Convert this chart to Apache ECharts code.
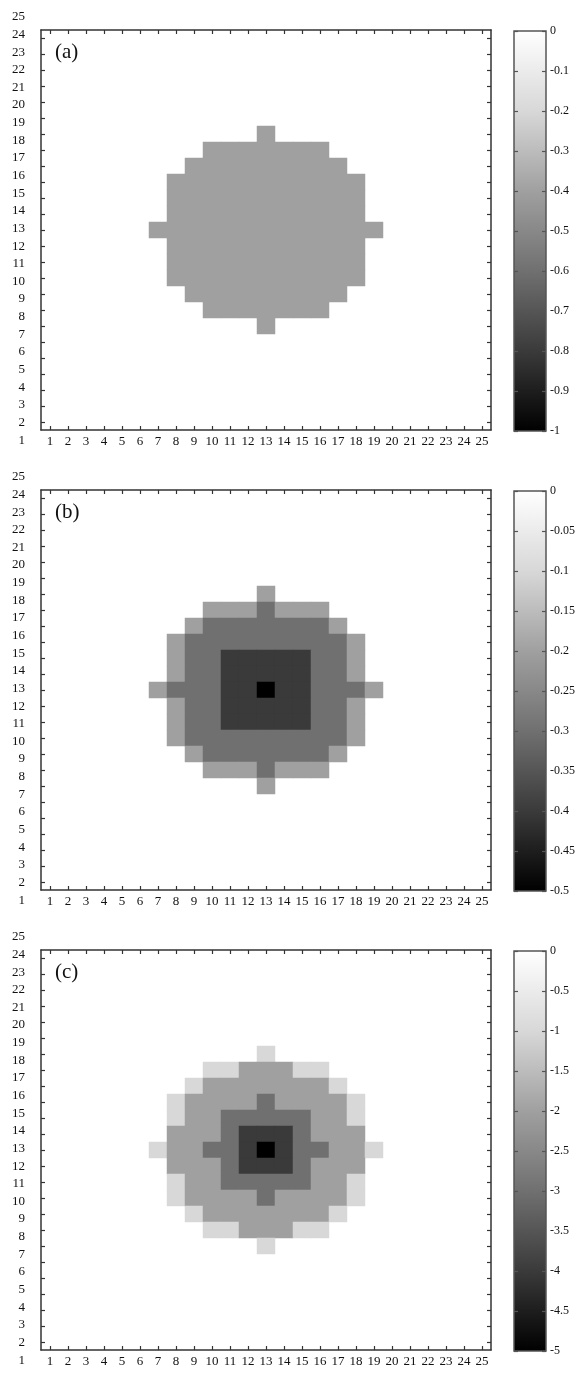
<!DOCTYPE html>
<html><head><meta charset="utf-8">
<script src="https://cdn.jsdelivr.net/npm/echarts@6/dist/echarts.min.js"></script>
<style>html,body{margin:0;padding:0;background:#fff}#c{width:581px;height:1377px}</style>
</head><body><div id="c"></div>
<script>
// Category tick labels
const xLabels = ['1','2','3','4','5','6','7','8','9','10','11','12','13','14','15','16','17','18','19','20','21','22','23','24','25'];
const yLabels = ['1','2','3','4','5','6','7','8','9','10','11','12','13','14','15','16','17','18','19','20','21','22','23','24','25'];

// Level codes per cell, rows listed from y=25 (top) down to y=1, columns x=1..25
const rowsA = [
'0000000000000000000000000',
'0000000000000000000000000',
'0000000000000000000000000',
'0000000000000000000000000',
'0000000000000000000000000',
'0000000000000000000000000',
'0000000000001000000000000',
'0000000001111111000000000',
'0000000011111111100000000',
'0000000111111111110000000',
'0000000111111111110000000',
'0000000111111111110000000',
'0000001111111111111000000',
'0000000111111111110000000',
'0000000111111111110000000',
'0000000111111111110000000',
'0000000011111111100000000',
'0000000001111111000000000',
'0000000000001000000000000',
'0000000000000000000000000',
'0000000000000000000000000',
'0000000000000000000000000',
'0000000000000000000000000',
'0000000000000000000000000',
'0000000000000000000000000'
];
const rowsB = [
'0000000000000000000000000',
'0000000000000000000000000',
'0000000000000000000000000',
'0000000000000000000000000',
'0000000000000000000000000',
'0000000000000000000000000',
'0000000000001000000000000',
'0000000001112111000000000',
'0000000012222222100000000',
'0000000122222222210000000',
'0000000122333332210000000',
'0000000122333332210000000',
'0000001222334332221000000',
'0000000122333332210000000',
'0000000122333332210000000',
'0000000122222222210000000',
'0000000012222222100000000',
'0000000001112111000000000',
'0000000000001000000000000',
'0000000000000000000000000',
'0000000000000000000000000',
'0000000000000000000000000',
'0000000000000000000000000',
'0000000000000000000000000',
'0000000000000000000000000'
];
const rowsC = [
'0000000000000000000000000',
'0000000000000000000000000',
'0000000000000000000000000',
'0000000000000000000000000',
'0000000000000000000000000',
'0000000000000000000000000',
'0000000000001000000000000',
'0000000001122211000000000',
'0000000012222222100000000',
'0000000122223222210000000',
'0000000122333332210000000',
'0000000222344432220000000',
'0000001223345433221000000',
'0000000222344432220000000',
'0000000122333332210000000',
'0000000122223222210000000',
'0000000012222222100000000',
'0000000001122211000000000',
'0000000000001000000000000',
'0000000000000000000000000',
'0000000000000000000000000',
'0000000000000000000000000',
'0000000000000000000000000',
'0000000000000000000000000',
'0000000000000000000000000'
];
// Value of each level code
const levelsA = [0, -0.4];
const levelsB = [0, -0.2, -0.3, -0.4, -0.5];
const levelsC = [0, -1, -2, -3, -4, -5];
// Colour bar ranges and tick steps
const barMinA = -1,   barStepA = 0.1;
const barMinB = -0.5, barStepB = 0.05;
const barMinC = -5,   barStepC = 0.5;
const tags = ['(a)', '(b)', '(c)'];

const FONT = '"Liberation Serif", "Times New Roman", serif';
const grays = ['#000000', '#3a3a3a', '#707070', '#a0a0a0', '#d8d8d8', '#ffffff'];
const OFFSET = 460;

const panels = [
  {rows: rowsA, levels: levelsA, min: barMinA, step: barStepA, tag: tags[0]},
  {rows: rowsB, levels: levelsB, min: barMinB, step: barStepB, tag: tags[1]},
  {rows: rowsC, levels: levelsC, min: barMinC, step: barStepC, tag: tags[2]}
];

const grid = [], xAxis = [], yAxis = [], series = [], visualMap = [], title = [];
const axisCol = '#333';
const mkTick = (col, align) => ({show: true, inside: true, alignWithLabel: align, length: 4,
  lineStyle: {color: col, width: 1.2}});
const mkLine = () => ({show: true, onZero: false, lineStyle: {color: axisCol, width: 1.5}});

panels.forEach((p, i) => {
  const o = i * OFFSET;
  const g0 = grid.length;
  grid.push({left: 41, top: 30 + o, width: 450, height: 400});
  grid.push({left: 45, top: 8 + o, width: 1, height: 441});
  const stops = grays.slice().reverse().map((c, k) => ({offset: k / (grays.length - 1), color: c}));
  grid.push({left: 514, top: 31 + o, width: 32, height: 400, show: true,
    borderColor: '#555', borderWidth: 1.5,
    backgroundColor: new echarts.graphic.LinearGradient(0, 0, 0, 1, stops)});

  const xi = xAxis.length, yi = yAxis.length;
  xAxis.push({type: 'category', gridIndex: g0, data: xLabels, position: 'bottom',
    axisLine: mkLine(), axisTick: mkTick(axisCol, true), splitLine: {show: false},
    axisLabel: {fontFamily: FONT, fontSize: 13, color: '#111', margin: 5, interval: 0}});
  xAxis.push({type: 'category', gridIndex: g0, data: xLabels, position: 'top',
    axisLine: mkLine(), axisTick: mkTick(axisCol, true), splitLine: {show: false}, axisLabel: {show: false}});
  yAxis.push({type: 'category', gridIndex: g0, data: yLabels, position: 'left',
    axisLine: mkLine(), axisTick: mkTick(axisCol, true), splitLine: {show: false}, axisLabel: {show: false}});
  yAxis.push({type: 'category', gridIndex: g0, data: yLabels, position: 'right',
    axisLine: mkLine(), axisTick: mkTick(axisCol, true), splitLine: {show: false}, axisLabel: {show: false}});

  // y tick labels (own grid, as in the reference they are spread wider than the cells)
  xAxis.push({type: 'category', gridIndex: g0 + 1, show: false, data: ['']});
  yAxis.push({type: 'category', gridIndex: g0 + 1, data: yLabels,
    axisLine: {show: false}, axisTick: {show: false}, splitLine: {show: false},
    axisLabel: {fontFamily: FONT, fontSize: 13, color: '#111', margin: 20, interval: 0}});

  // colour bar
  xAxis.push({type: 'category', gridIndex: g0 + 2, show: false, data: ['']});
  yAxis.push({type: 'value', gridIndex: g0 + 2, min: p.min, max: 0, interval: p.step, position: 'right',
    axisLine: {show: false, onZero: false}, axisTick: mkTick('#555', false), splitLine: {show: false},
    axisLabel: {fontFamily: FONT, fontSize: 12, color: '#111', margin: 4}});
  yAxis.push({type: 'value', gridIndex: g0 + 2, min: p.min, max: 0, interval: p.step, position: 'left',
    axisLine: {show: false, onZero: false}, axisTick: mkTick('#555', false), splitLine: {show: false}, axisLabel: {show: false}});

  const data = [];
  p.rows.forEach((r, ri) => {
    for (let c = 0; c < r.length; c++) {
      const code = +r[c];
      if (code > 0) data.push([c, p.rows.length - 1 - ri, p.levels[code]]);
    }
  });
  series.push({type: 'heatmap', xAxisIndex: xi, yAxisIndex: yi, data: data,
    itemStyle: {borderWidth: 0}, emphasis: {disabled: true}, progressive: 0});
  visualMap.push({type: 'continuous', show: false, seriesIndex: i, min: p.min, max: 0,
    dimension: 2, inRange: {color: grays}});
  title.push({text: p.tag, left: 50, top: 37 + o,
    textStyle: {fontFamily: FONT, fontSize: 21, fontWeight: 'normal', color: '#111'}});
});

const chart = echarts.init(document.getElementById('c'));
chart.setOption({animation: false, backgroundColor: '#fff', title, grid, xAxis, yAxis, visualMap, series});
</script>
</body></html>
